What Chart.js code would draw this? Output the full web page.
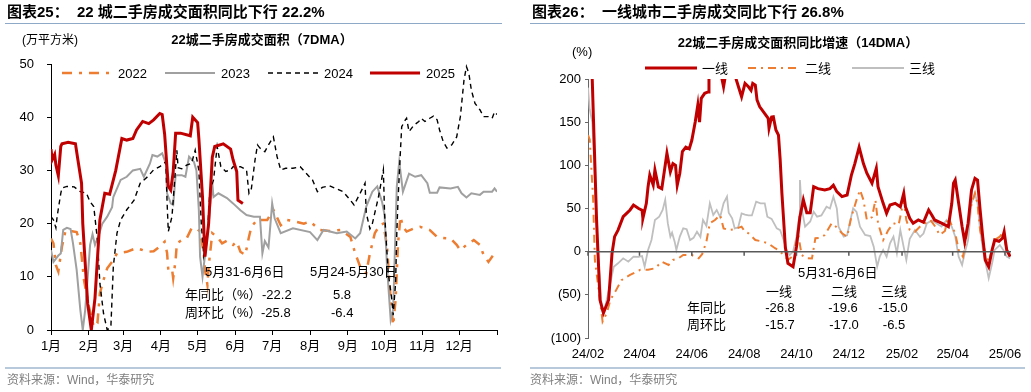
<!DOCTYPE html>
<html lang="zh">
<head>
<meta charset="UTF-8" />
<script src="https://cdn.jsdelivr.net/npm/chart.js@4.4.1/dist/chart.umd.min.js"></script>
<style>
  body { margin: 0; background: #fff; }
  #wrap { position: relative; width: 1031px; height: 392px; overflow: hidden;
    font-family: "Liberation Sans", Arial, "Noto Sans CJK SC", sans-serif; color: #000; }
  canvas { position: absolute; top: 0; }
  .t { position: absolute; white-space: nowrap; font-size: 13px; line-height: 16px; }
  .h { font-weight: bold; font-size: 15px; line-height: 20px; }
  .b { font-weight: bold; }
  .c { transform: translateX(-50%); }
  .src { color: #7f7f7f; font-size: 12px; }
  .rule { position: absolute; }
</style>
</head>
<body>
<div id="wrap">
  <canvas id="left" width="515" height="392" style="left:0"></canvas>
  <canvas id="right" width="516" height="392" style="left:515px"></canvas>

  <div class="t h" style="left:7px;top:2px">图表25：&nbsp;&nbsp;22 城二手房成交面积同比下行 22.2%</div>
  <div class="rule" style="left:5px;top:23px;width:497px;height:1px;background:#8ea9c8"></div>
  <div class="t" style="left:22px;top:32px;font-size:12px">(万平方米)</div>
  <div class="t b c" style="left:262px;top:32px">22城二手房成交面积（7DMA）</div>
  <div class="t" style="left:205px;top:264px">5月31-6月6日</div>
  <div class="t" style="left:310px;top:264px">5月24-5月30日</div>
  <div class="t" style="left:185px;top:287px">年同比（%）</div>
  <div class="t" style="left:262px;top:287px">-22.2</div>
  <div class="t" style="left:333px;top:287px">5.8</div>
  <div class="t" style="left:185px;top:305px">周环比（%）</div>
  <div class="t" style="left:261px;top:305px">-25.8</div>
  <div class="t" style="left:331px;top:305px">-6.4</div>
  <div class="rule" style="left:5px;top:367px;width:496px;height:2px;background:#b7c9db"></div>
  <div class="t src" style="left:7px;top:372px">资料来源：Wind，华泰研究</div>

  <div class="t h" style="left:532px;top:2px">图表26：&nbsp;&nbsp;一线城市二手房成交同比下行 26.8%</div>
  <div class="rule" style="left:530px;top:23px;width:495px;height:1px;background:#8ea9c8"></div>
  <div class="t" style="left:572px;top:44px">(%)</div>
  <div class="t b c" style="left:798px;top:35px">22城二手房成交面积同比增速（14DMA）</div>
  <div class="t" style="left:798px;top:265px">5月31-6月6日</div>
  <div class="t c" style="left:779px;top:284px">一线</div>
  <div class="t c" style="left:844px;top:284px">二线</div>
  <div class="t c" style="left:894px;top:284px">三线</div>
  <div class="t" style="left:687px;top:300px">年同比</div>
  <div class="t c" style="left:780px;top:300px">-26.8</div>
  <div class="t c" style="left:843px;top:300px">-19.6</div>
  <div class="t c" style="left:893px;top:300px">-15.0</div>
  <div class="t" style="left:687px;top:317px">周环比</div>
  <div class="t c" style="left:780px;top:317px">-15.7</div>
  <div class="t c" style="left:844px;top:317px">-17.0</div>
  <div class="t c" style="left:894px;top:317px">-6.5</div>
  <div class="rule" style="left:530px;top:367px;width:495px;height:2px;background:#b7c9db"></div>
  <div class="t src" style="left:530px;top:372px">资料来源：Wind，华泰研究</div>
</div>

<script>
// ---- left chart: 22 city floor area, 7DMA, by day of year ----
const monthStarts = [0, 31, 59, 90, 120, 151, 181, 212, 243, 273, 304, 334, 365];
const monthLabels = ['1月', '2月', '3月', '4月', '5月', '6月', '7月', '8月', '9月', '10月', '11月', '12月'];

const days2022 = [0, 2, 4, 6, 9, 12, 16, 21, 24, 27,
  31, 35, 38, 40, 43, 46, 50, 54, 62, 70,
  79, 84, 89, 93, 95, 96, 99, 100, 102, 103,
  107, 111, 115, 119, 122, 125, 126, 128, 129, 132,
  136, 140, 144, 149, 152, 155, 159, 162, 164, 169,
  171, 177, 182, 188, 193, 198, 207, 212, 220, 228,
  237, 245, 249, 253, 258, 261, 265, 269, 272, 275,
  278, 280, 282, 284, 286, 288, 291, 297, 302, 310,
  316, 321, 327, 332, 335, 340, 346, 351, 354, 358,
  362];
const vals2022 = [17.2, 16.3, 12.2, 11, 15.7, 18.8, 18.6, 18.4, 16.3, 9.4,
  4.4, 0.6, 1.3, 6.9, 9.4, 11.6, 12.8, 14.4, 14.7, 15.4,
  14.7, 14.8, 15.7, 16.6, 14.5, 11.3, 11.5, 9.7, 13.2, 16.3,
  16.9, 17.2, 19.1, 19.1, 18.5, 14.4, 11.3, 8.5, 11.9, 18.2,
  17.5, 16.3, 16.8, 16, 16.6, 14.7, 14.1, 17.5, 19.4, 20.8,
  20.7, 20.7, 22.6, 19.7, 20.7, 20.5, 20, 20.4, 18.8, 18.6,
  18.8, 17.5, 14.4, 11.9, 10.7, 14.4, 18.2, 19.7, 20, 15.7,
  5.6, 0.9, 5.6, 16.3, 21.3, 19.4, 18.5, 19.1, 19.4, 18.8,
  17.5, 17.3, 17.2, 16, 15, 16, 16.9, 16, 14.1, 12.8,
  14.1];

const days2023 = [0, 2, 6, 8, 10, 13, 16, 18, 21, 24,
  26, 28, 32, 34, 36, 39, 42, 46, 50, 51,
  57, 62, 67, 73, 76, 81, 83, 87, 91, 94,
  95, 98, 100, 102, 107, 110, 113, 117, 119, 121,
  122, 124, 125, 129, 132, 133, 137, 144, 149, 155,
  160, 166, 171, 173, 175, 178, 181, 183, 188, 198,
  212, 218, 223, 234, 242, 249, 253, 258, 263, 267,
  271, 273, 275, 278, 280, 283, 285, 288, 293, 298,
  303, 308, 310, 316, 318, 327, 333, 336, 340, 344,
  351, 354, 361, 363, 365];
const vals2023 = [15, 12.8, 14, 14.4, 18.8, 19.2, 19, 16.3, 11.3, 3.8,
  0, 3.8, 16, 18, 16, 17.8, 20, 21.3, 23.1, 25,
  28.2, 28.8, 30, 30.3, 28.8, 31.3, 32.9, 32.6, 33.2, 31.3,
  25.7, 23.8, 23.5, 29.1, 29.1, 28.8, 32.6, 31.6, 30, 22.5,
  13.8, 10, 12, 20, 27.6, 25, 25.7, 24.8, 23.8, 22.5,
  21.6, 21.3, 21.3, 14.4, 16.7, 15.5, 23.8, 21, 18.2, 19.1,
  18.4, 16.9, 18.8, 18.2, 18.5, 17.2, 18.2, 23.2, 26, 27,
  24, 21.6, 11.9, 1.9, 3.8, 27, 31.6, 26, 29.4, 28.8,
  29.1, 27.6, 25.8, 25.8, 26.8, 26.6, 26.9, 25.7, 24.9, 25.7,
  25.4, 26, 26, 26.6, 26];

const days2024 = [0, 2, 4, 5, 8, 9, 13, 19, 24, 29,
  32, 35, 38, 40, 43, 46, 49, 51, 54, 57,
  62, 68, 73, 79, 84, 89, 94, 95, 96, 99,
  100, 103, 104, 107, 111, 115, 118, 121, 123, 125,
  128, 130, 133, 136, 139, 143, 147, 149, 155, 160,
  162, 164, 167, 169, 171, 175, 178, 182, 185, 188,
  192, 198, 204, 209, 214, 218, 222, 228, 234, 239,
  245, 248, 253, 257, 258, 261, 263, 265, 268, 272,
  273, 276, 279, 280, 282, 283, 284, 286, 287, 290,
  291, 293, 297, 301, 303, 306, 310, 313, 316, 318,
  321, 324, 328, 332, 335, 338, 340, 342, 344, 347,
  351, 354, 358, 361, 363, 365];
const vals2024 = [21.3, 20.7, 19.2, 21.3, 25.7, 26.7, 27, 26.9, 26, 25.7,
  24.1, 23.2, 16.9, 8.8, 3.1, 0, 0.6, 11.9, 18.2, 20.7,
  22.6, 24.4, 27.6, 28.8, 30.1, 30.7, 31.6, 24, 18.5, 21.3,
  24.4, 33.8, 30.5, 30.3, 31, 31.3, 33.8, 30, 20, 14,
  18, 26, 28.2, 34.5, 30.7, 29.8, 30.1, 30.7, 30.7, 30.1,
  25.7, 26.6, 32, 34.8, 34.2, 33.5, 34.8, 36.3, 32.6, 30.1,
  30.4, 30.4, 30.7, 29.4, 28.2, 26, 26.8, 27.1, 26.5, 26,
  24.4, 23.5, 25.7, 27.6, 22, 19, 20, 22, 25, 30.1,
  21.8, 10.7, 5.6, 2.8, 8.8, 18.2, 24.4, 33.8, 38.2, 39.5,
  39.8, 37.3, 38.5, 39.2, 39.8, 39.2, 39.8, 40.2, 39.5, 37.6,
  35.4, 34.2, 34.8, 36.3, 40.1, 47, 49.5, 48.2, 45.1, 42.6,
  41.4, 40.1, 40.1, 39.8, 41, 40.5];

const days2025 = [0, 1, 3, 4, 6, 8, 9, 14, 20, 22,
  25, 26, 30, 33, 36, 40, 44, 48, 53, 58,
  62, 67, 70, 75, 80, 84, 89, 91, 93, 96,
  98, 100, 102, 106, 114, 116, 120, 121, 124, 126,
  129, 132, 134, 141, 147, 149, 152, 153, 157];
const vals2025 = [34, 32, 33, 31, 29, 34.5, 35, 35.3, 35, 32,
  27.6, 20, 5, 0, 6, 20.7, 25.7, 25.5, 30, 36,
  35.7, 36, 37.6, 39.2, 38.8, 39.5, 40.7, 40.5, 36.8, 27,
  26.3, 29.7, 37, 37, 36.5, 40, 39, 36, 25, 13.8,
  20, 32.5, 34.5, 35, 34, 32, 29.8, 24.4, 23.8];

// ---- right chart: YoY by tier, 14DMA, days since 2024-02-01 ----
const dateTicks = [0, 60, 121, 182, 243, 304, 366, 425, 486];
const dateLabels = ['24/02', '24/04', '24/06', '24/08', '24/10', '24/12', '25/02', '25/04', '25/06'];

const daysT1 = [0, 5, 10, 14, 18, 24, 28, 31, 35, 41,
  45, 49, 53, 59, 63, 64, 68, 70, 72, 76,
  78, 82, 86, 92, 96, 99, 102, 104, 107, 110,
  114, 118, 121, 125, 128, 130, 132, 136, 140, 141,
  144, 152, 158, 162, 168, 171, 176, 179, 183, 187,
  190, 192, 195, 197, 200, 206, 210, 211, 214, 216,
  219, 222, 224, 226, 228, 230, 233, 239, 243, 247,
  251, 255, 259, 263, 268, 276, 282, 286, 290, 296,
  302, 307, 311, 316, 321, 325, 331, 336, 338, 344,
  348, 352, 358, 364, 368, 370, 375, 379, 385, 391,
  397, 401, 404, 412, 420, 424, 426, 428, 432, 436,
  439, 443, 447, 451, 454, 457, 460, 463, 467, 471,
  474, 479, 483, 485, 488, 492];
const valsT1 = [300, 198, 36.7, -56, -71, -56, -2, 17.4, 25, 40.5,
  44.4, 48.3, 54, 50, 48, 38.7, 56, 75.3, 88.8, 77.2,
  94.6, 75, 73, 114, 92.6, 102, 100, 77, 90.8, 115.8,
  121, 119, 129, 150.6, 170, 150, 177.6, 183.4, 185, 200,
  215, 220, 191, 215, 225, 205, 189, 179.5, 195, 191,
  187, 195, 193, 175.7, 168, 160, 154.5, 143, 156, 156.3,
  141, 135, 106, 67.6, 36.7, 5, -13.5, -17.4, 5.8, 40.5,
  60, 45, 45, 75.3, 73, 71.5, 73, 77, 69.5, 63.7,
  65.6, 88.8, 102, 121, 102, 90.8, 79.2, 96.6, 75.3, 56,
  44.4, 54, 56, 52, 67.6, 52, 38.7, 32.9, 36.7, 34,
  48.3, 42, 36.7, 33, 29, 56, 79.2, 83, 56, 29,
  11.6, 33, 71.5, 85, 83, 48.3, 17.4, -9.6, -17.4, 2,
  13.5, 12, 15.5, 23, 2, -5.8];

const daysT2 = [0, 2, 6, 8, 12, 17, 22, 26, 32, 39,
  49, 61, 70, 78, 86, 94, 99, 105, 111, 121,
  129, 133, 138, 142, 148, 154, 158, 164, 171, 179,
  183, 187, 195, 202, 210, 218, 222, 230, 233, 239,
  245, 249, 255, 261, 265, 270, 276, 284, 290, 296,
  302, 307, 313, 317, 321, 325, 331, 335, 338, 344,
  350, 356, 362, 368, 371, 375, 381, 387, 393, 399,
  404, 410, 416, 420, 424, 428, 432, 437, 441, 445,
  451, 454, 457, 463, 467, 471, 474, 480, 484, 488,
  492];
const valsT2 = [135, 130, 60, -9.6, -40.5, -81, -71, -56, -46, -33,
  -27, -21, -21, -19.3, -11.6, -15.4, -9.6, -8, -3.9, -4,
  -7.7, -3, 11.6, 33, 36.7, 42.5, 27, 25, 26, 29,
  23, 21.3, 13.5, 12, 9.7, 4, 2, -5.8, -9.6, -5,
  20, -3.9, -7.7, -8, 15.5, 16, 19.3, 33, 28, 21.3,
  17.4, 40.5, 60, 71.5, 60, 36.7, 40, 60, 33, 13.5,
  25, 33, 31, 60, 36.7, 25, 23, 29, 33, 36.7,
  30, 19.3, 24, 40.5, 30, 21.3, 2, -5.8, 17.4, 48.3,
  67.6, 55, 25, -1.9, -11.6, 2, 13.5, 17.4, 23, 2,
  -3.9];

const daysT3 = [0, 2, 5, 7, 11, 14, 16, 20, 26, 30,
  35, 41, 47, 53, 59, 63, 66, 70, 74, 78,
  83, 87, 90, 93, 96, 98, 101, 103, 107, 111,
  115, 119, 123, 127, 131, 134, 138, 142, 146, 150,
  154, 158, 162, 164, 168, 171, 175, 179, 183, 187,
  191, 196, 201, 206, 209, 214, 220, 224, 228, 232,
  235, 239, 243, 246, 247, 249, 253, 259, 263, 267,
  272, 278, 282, 286, 290, 292, 298, 302, 305, 309,
  313, 317, 323, 329, 333, 337, 340, 344, 348, 352,
  356, 360, 364, 368, 371, 375, 381, 387, 391, 395,
  401, 406, 412, 418, 424, 428, 432, 436, 439, 443,
  447, 451, 454, 457, 461, 465, 467, 471, 474, 480,
  484, 488, 492];
const valsT3 = [190, 165, 150, 110, 2, -33, -67.5, -64, -36.6, -17.4,
  -13.5, -7.7, -11.6, -5.8, -6, -5, -17.4, 2, 13.5, 36.7,
  40.5, 48.3, 60, 33, 17.4, 22, 11.6, 2, 17.4, 27,
  26, 13.5, 16, 23, 17, 36.7, 30, 56, 42.5, 48.3,
  40, 56, 63.7, 45, 38.7, 27, 28, 44.4, 43, 42,
  42, 58, 56, 56, 40.5, 38, 27, 25, 13.5, 0,
  -3.9, 0, 17.4, 40, 83, 50, 29, 35, 46.3, 40.5,
  42, 52, 50, 63.7, 50, 29, 17.4, 19, 33, 50.2,
  46, 29, 19.3, 18, 5.8, -17.4, -5.8, 2, -5.8, 9.7,
  17.4, -2, 25, 5, -9.6, 15, 25, 17, 21, 33,
  36, 33, 29, 36.7, 29, 17.4, -5.8, -15.4, -2, 13.5,
  56, 67.6, 56, 25, -1.9, -21, -30.8, -13.5, 2, 7.7,
  2, -5.8, -7.7];

const toXY = (d, v) => d.map((x, i) => ({ x: x, y: v[i] }));
const tickFont = { family: '"Liberation Sans", Arial, "Noto Sans CJK SC", sans-serif', size: 13 };
const legendFont = '13px "Liberation Sans", Arial, "Noto Sans CJK SC", sans-serif';

// legend drawn inside the canvas, one short line + label per dataset
function lineLegend(xs, y, len, gap) {
  return {
    id: 'lineLegend',
    afterDraw(chart) {
      const ctx = chart.ctx;
      chart.data.datasets.forEach((ds, i) => {
        const x = xs[i];
        ctx.save();
        ctx.strokeStyle = ds.borderColor;
        ctx.lineWidth = ds.borderWidth;
        ctx.setLineDash(ds.borderDash || []);
        ctx.beginPath();
        ctx.moveTo(x, y);
        ctx.lineTo(x + len, y);
        ctx.stroke();
        ctx.setLineDash([]);
        ctx.fillStyle = '#000';
        ctx.font = legendFont;
        ctx.textBaseline = 'middle';
        ctx.fillText(ds.label, x + len + gap, y + 1);
        ctx.restore();
      });
    }
  };
}

// horizontal axis line at 0 with its tick marks (labels stay at the bottom)
const zeroAxis = {
  id: 'zeroAxis',
  afterDatasetsDraw(chart) {
    const { ctx, chartArea, scales } = chart;
    const y0 = scales.y.getPixelForValue(0);
    ctx.save();
    ctx.strokeStyle = '#595959';
    ctx.lineWidth = 1.5;
    ctx.beginPath();
    ctx.moveTo(chartArea.left, y0);
    ctx.lineTo(chartArea.right, y0);
    scales.x.ticks.forEach(t => {
      const px = scales.x.getPixelForValue(t.value);
      ctx.moveTo(px, y0);
      ctx.lineTo(px, y0 + 4);
    });
    ctx.stroke();
    ctx.restore();
  }
};

new Chart(document.getElementById('left'), {
  type: 'line',
  data: {
    datasets: [
      { label: '2022', data: toXY(days2022, vals2022), borderColor: '#ED7D31', borderWidth: 2.5, borderDash: [10, 7, 3, 7], order: 3 },
      { label: '2023', data: toXY(days2023, vals2023), borderColor: '#a0a0a0', borderWidth: 2, order: 2 },
      { label: '2024', data: toXY(days2024, vals2024), borderColor: '#000', borderWidth: 1.4, borderDash: [5, 4], order: 1 },
      { label: '2025', data: toXY(days2025, vals2025), borderColor: '#C00000', borderWidth: 3, order: 0 }
    ]
  },
  options: {
    responsive: false,
    animation: false,
    layout: { padding: { top: 64, right: 18, left: 0, bottom: 0 } },
    elements: { point: { radius: 0 }, line: { tension: 0 } },
    plugins: { legend: { display: false }, tooltip: { enabled: false } },
    scales: {
      x: {
        type: 'linear', min: 0, max: 365,
        afterBuildTicks: s => { s.ticks = monthStarts.map(v => ({ value: v })); },
        afterFit: s => { s.height = 62; },
        ticks: { callback: (v, i) => monthLabels[i] || '', autoSkip: false, maxRotation: 0, padding: 4, color: '#000', font: tickFont },
        grid: { drawOnChartArea: false, tickLength: 5, color: '#000' },
        border: { color: '#000' }
      },
      y: {
        min: 0, max: 50,
        afterFit: s => { s.width = 51; },
        ticks: { stepSize: 10, padding: 13, color: '#000', font: tickFont },
        grid: { drawOnChartArea: false, tickLength: 4, color: '#000' },
        border: { color: '#000' }
      }
    }
  },
  plugins: [lineLegend([62, 165, 268, 370], 73, 50, 6)]
});

new Chart(document.getElementById('right'), {
  type: 'line',
  data: {
    datasets: [
      { label: '一线', data: toXY(daysT1, valsT1), borderColor: '#C00000', borderWidth: 3, order: 0 },
      { label: '二线', data: toXY(daysT2, valsT2), borderColor: '#ED7D31', borderWidth: 2, borderDash: [8, 5, 2, 5], order: 1 },
      { label: '三线', data: toXY(daysT3, valsT3), borderColor: '#bfbfbf', borderWidth: 1.8, order: 2 }
    ]
  },
  options: {
    responsive: false,
    animation: false,
    layout: { padding: { top: 79, right: 20, left: 0, bottom: 0 } },
    elements: { point: { radius: 0 }, line: { tension: 0 } },
    plugins: { legend: { display: false }, tooltip: { enabled: false } },
    scales: {
      x: {
        type: 'linear', min: 0, max: 493,
        afterBuildTicks: s => { s.ticks = dateTicks.map(v => ({ value: v })); },
        afterFit: s => { s.height = 54; },
        ticks: { callback: (v, i) => dateLabels[i] || '', autoSkip: false, maxRotation: 0, padding: 9, color: '#000', font: tickFont },
        grid: { display: false, drawTicks: false },
        border: { display: false }
      },
      y: {
        min: -100, max: 200,
        afterFit: s => { s.width = 73; },
        ticks: { stepSize: 50, padding: 4, color: '#000', font: tickFont, callback: v => v < 0 ? '(' + (-v) + ')' : v },
        grid: { drawOnChartArea: false, tickLength: 3, color: '#666' },
        border: { color: '#666' }
      }
    }
  },
  plugins: [zeroAxis, lineLegend([130, 233, 337], 68, 52, 5)]
});
</script>
</body>
</html>
